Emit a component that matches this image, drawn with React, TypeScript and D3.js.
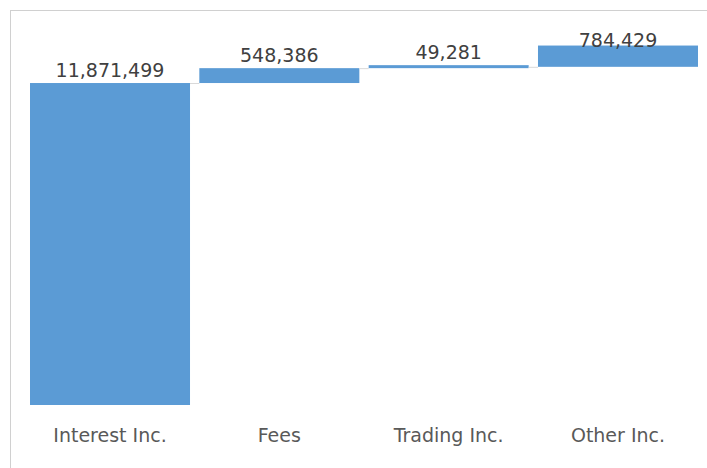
import React from "react";
import * as d3 from "d3";

const categories = ["Interest Inc.", "Fees", "Trading Inc.", "Other Inc."];
const values = [11871499, 548386, 49281, 784429];
const labels = ["11,871,499", "548,386", "49,281", "784,429"];

const W = 707;
const H = 468;

export default function App() {
  const x = d3.scaleBand<string>().domain(categories).range([30, 698]).paddingInner(0.055).paddingOuter(0);
  const y = d3.scaleLinear().domain([0, 14000000]).range([405, 25.3]);

  let acc = 0;
  const bars = values.map((v, i) => {
    const start = acc;
    acc += v;
    return { cat: categories[i], start, end: acc, label: labels[i] };
  });
  const bw = x.bandwidth();
  const font = "'DejaVu Sans', Verdana, sans-serif";

  return (
    <svg width={W} height={H} style={{ position: "absolute", left: 0, top: 0 }}>
      <rect x={0} y={0} width={W} height={H} fill="#fff" />
      <rect x={10.5} y={10.5} width={W + 20} height={H + 20} fill="none" stroke="#D0D0D0" strokeWidth={1} />
      {bars.map((b, i) => {
        const top = y(b.end);
        const bot = y(b.start);
        const h = Math.max(bot - top, 3);
        return (
          <g key={b.cat}>
            <rect x={x(b.cat)} y={bot - h} width={bw} height={h} fill="#5B9BD5" />
            {i < bars.length - 1 && (
              <line
                x1={(x(b.cat) as number) + bw}
                x2={x(bars[i + 1].cat) as number}
                y1={top + 0.5}
                y2={top + 0.5}
                stroke="#D9D9D9"
                strokeWidth={1}
              />
            )}
            <text
              x={(x(b.cat) as number) + bw / 2}
              y={Math.max(bot - h - 6, 47)}
              textAnchor="middle"
              fontFamily={font}
              fontSize={19}
              fill="#404040"
            >
              {b.label}
            </text>
            <text
              x={(x(b.cat) as number) + bw / 2}
              y={442}
              textAnchor="middle"
              fontFamily={font}
              fontSize={19}
              fill="#595959"
            >
              {b.cat}
            </text>
          </g>
        );
      })}
    </svg>
  );
}
